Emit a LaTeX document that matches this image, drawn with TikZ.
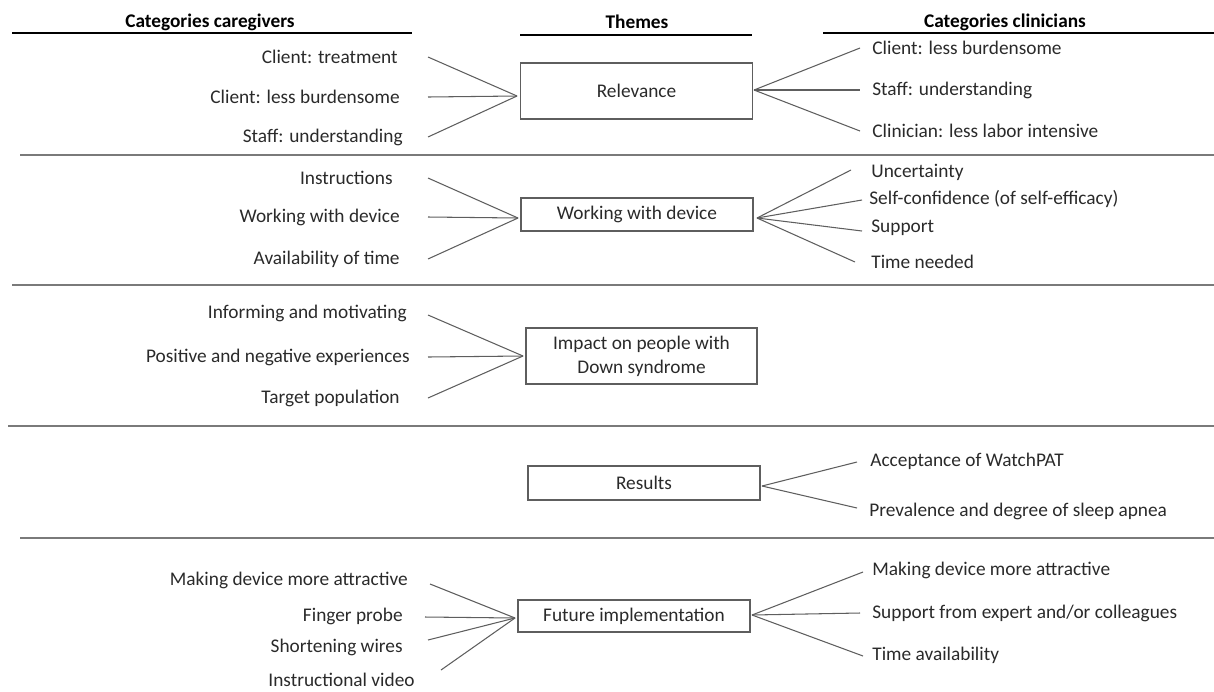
\documentclass[tikz,border=0pt]{standalone}
\usepackage{fontspec}
\setmainfont{Carlito}
\usetikzlibrary{calc}
\definecolor{txt}{HTML}{2A2A2A}
\definecolor{ln}{HTML}{5E5E5E}
\definecolor{sepc}{HTML}{7A7A7A}
\begin{document}
\begin{tikzpicture}[x=0.02cm,y=-0.02cm,
 every node/.style={font=\fontsize{11}{13.5}\selectfont, text=txt, inner sep=0pt},
 head/.style={font=\fontsize{11}{13}\selectfont\bfseries, text=black},
 headline/.style={line width=1.3pt, black},
 sepline/.style={line width=0.8pt, sepc},
 box/.style={draw=ln, line width=0.7pt, minimum width=4.64cm, align=center},
 lab/.style={anchor=east},
 rab/.style={anchor=west},
 conn/.style={draw=ln, line width=0.6pt}]
\useasboundingbox (0,0) rectangle (1214,691);

% headers
\node[head] (h1) at (210,22) {Categories caregivers};
\node[head] (h2) at (637,22) {Themes};
\node[head] (h3) at (1005,22) {Categories clinicians};
\draw[headline] (12,33) -- (412,33);
\draw[headline] (520,35) -- (752,35);
\draw[headline] (823,33) -- (1214,33);

% separators
\draw[sepline] (20,155) -- (1214,155);
\draw[sepline] (12,285) -- (1214,285);
\draw[sepline] (8,426) -- (1214,426);
\draw[sepline] (20,538) -- (1214,538);

\coordinate (lx) at (428,0);
\coordinate (rx) at (860,0);

% theme boxes
\node[box, minimum height=1.12cm] (rel) at (636.5,91) {Relevance};
\node[box, minimum height=0.66cm] (work) at (637,214.5) {Working with device};
\node[box, minimum height=1.12cm, minimum width=4.62cm] (imp) at (641.5,356) {Impact on people with\\Down syndrome};
\node[box, minimum height=0.68cm] (res) at (644,483) {Results};
\node[box, minimum height=0.64cm] (fut) at (634,616) {Future implementation};

% convergence points
\coordinate (relL) at (517,96);
\coordinate (relR) at (754,90);
\coordinate (workL) at (518,218);
\coordinate (workR) at (757,218);
\coordinate (impL) at (523,356);
\coordinate (resR) at (762,486);
\coordinate (futL) at (515,618);
\coordinate (futR) at (752,615);

% Relevance
\node[lab] (a1) at (398,57) {Client: treatment};
\node[lab] (a2) at (400,97) {Client: less burdensome};
\node[lab] (a3) at (403,137) {Staff: understanding};
\node[rab] (b1) at (872,48) {Client: less burdensome};
\node[rab] (b2) at (872,90) {Staff: understanding};
\node[rab] (b3) at (872,131) {Clinician: less labor intensive};
\foreach \n in {a1,a2,a3} \draw[conn] (\n.east -| lx) -- (relL);
\foreach \n in {b1,b2,b3} \draw[conn] (relR) -- (\n.west -| rx);

% Working with device
\node[lab] (c1) at (393,178) {Instructions};
\node[lab] (c2) at (400,217) {Working with device};
\node[lab] (c3) at (400,259) {Availability of time};
\node[rab] (d1) at (871,172) {Uncertainty};
\node[rab] (d2) at (869,199) {Self-confidence (of self-efficacy)};
\node[rab] (d3) at (871,228) {Support};
\node[rab] (d4) at (871,262) {Time needed};
\foreach \n in {c1,c2,c3} \draw[conn] (\n.east -| lx) -- (workL);
\draw[conn] (workR) -- ($(d1.west -| rx)+(-9,-2)$);
\draw[conn] (workR) -- ($(d2.west -| rx)+(2,1)$);
\draw[conn] (workR) -- ($(d3.west -| rx)+(2,3)$);
\draw[conn] (workR) -- ($(d4.west -| rx)+(-5,0)$);

% Impact
\node[lab] (e1) at (407,313) {Informing and motivating};
\node[lab] (e2) at (410,357) {Positive and negative experiences};
\node[lab] (e3) at (400,398) {Target population};
\draw[conn] ($(e1.east -| lx)+(0,2)$) -- (impL);
\draw[conn] (e2.east -| lx) -- (impL);
\draw[conn] (e3.east -| lx) -- (impL);

% Results
\node[rab] (g1) at (870,461) {Acceptance of WatchPAT};
\node[rab] (g2) at (869,511) {Prevalence and degree of sleep apnea};
\draw[conn] (resR) -- ($(g1.west -| rx)+(-3,1)$);
\draw[conn] (resR) -- ($(g2.west -| rx)+(-3,-3)$);

% Future implementation
\node[lab] (f1) at (408,580) {Making device more attractive};
\node[lab] (f2) at (403,616) {Finger probe};
\node[lab] (f3) at (403,647) {Shortening wires};
\node[lab] (f4) at (415,680) {Instructional video};
\node[rab] (k1) at (872,570) {Making device more attractive};
\node[rab] (k2) at (872,613) {Support from expert and/or colleagues};
\node[rab] (k3) at (872,655) {Time availability};
\draw[conn] ($(f1.east -| lx)+(2,4)$) -- (futL);
\draw[conn] ($(f2.east -| lx)+(-3,1)$) -- (futL);
\draw[conn] ($(f3.east -| lx)+(0,-7)$) -- (futL);
\draw[conn] ($(f4.east -| lx)+(13,-10)$) -- (futL);
\draw[conn] (futR) -- ($(k1.west -| rx)+(3,2)$);
\draw[conn] (futR) -- (k2.west -| rx);
\draw[conn] (futR) -- ($(k3.west -| rx)+(3,1)$);
\end{tikzpicture}
\end{document}
